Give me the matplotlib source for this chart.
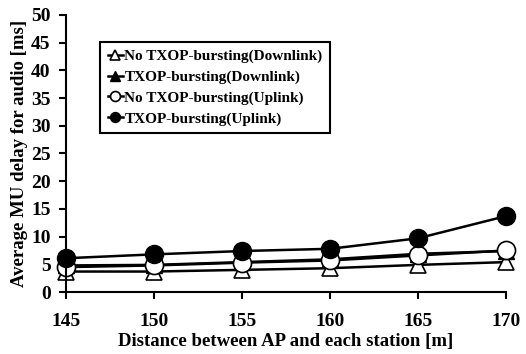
import matplotlib.pyplot as plt

distance = [145, 150, 155, 160, 165, 170]
no_txop_down = [3.7, 3.7, 4.0, 4.3, 4.9, 5.4]
txop_down = [4.8, 4.9, 5.4, 5.9, 6.9, 7.4]
no_txop_up = [4.5, 4.8, 5.3, 5.7, 6.6, 7.5]
txop_up = [6.1, 6.8, 7.4, 7.8, 9.7, 13.7]

plt.rcParams['font.family'] = 'Liberation Serif'
plt.rcParams['font.weight'] = 'bold'

fig = plt.figure(figsize=(5.26, 3.54), dpi=100)
ax = fig.add_axes([0.1255, 0.175, 0.8365, 0.783])

ax.plot(distance, no_txop_down, '-^', color='black', mfc='white', mec='black',
        ms=12, lw=1.8, mew=1.2, label='No TXOP-bursting(Downlink)')
ax.plot(distance, txop_down, '-^', color='black', mfc='black',
        ms=12, lw=1.8, label='TXOP-bursting(Downlink)')
ax.plot(distance, no_txop_up, '-o', color='black', mfc='white', mec='black',
        ms=13, lw=1.8, mew=1.2, label='No TXOP-bursting(Uplink)')
ax.plot(distance, txop_up, '-o', color='black', mfc='black',
        ms=13, lw=1.8, label='TXOP-bursting(Uplink)')

ax.set_xlim(145, 170)
ax.set_ylim(0, 50)
ax.set_xticks(distance)
ax.set_yticks(range(0, 51, 5))
ax.spines['top'].set_visible(False)
ax.spines['right'].set_visible(False)
ax.spines['left'].set_linewidth(1.5)
ax.spines['bottom'].set_linewidth(1.5)
ax.tick_params(direction='out', length=5, width=1.5, labelsize=14)
ax.tick_params(axis='x', pad=10)
ax.tick_params(axis='y', pad=6)

ax.set_xlabel('Distance between AP and each station [m]', fontsize=13.5, fontweight='bold', labelpad=2)
ax.set_ylabel('Average MU delay for audio [ms]', fontsize=13.5, fontweight='bold', labelpad=2)

for ln in ax.lines:
    ln.set_clip_on(False)

leg = ax.legend(loc='upper left', bbox_to_anchor=(0.06, 0.93),
                prop={'weight': 'bold', 'size': 11}, markerscale=0.55,
                handlelength=1.0, handletextpad=0.1, borderpad=0.5,
                labelspacing=0.45, fancybox=False, framealpha=1,
                edgecolor='black')
leg.get_frame().set_linewidth(1.5)

plt.savefig('out.png', dpi=100)
